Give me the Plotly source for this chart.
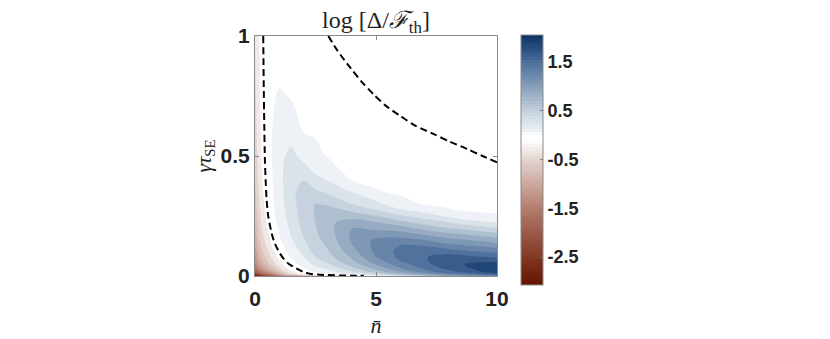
import numpy as np
import plotly.graph_objects as go

# ---------------- data ----------------
n_bar = [0, 0.15, 0.3, 0.5, 0.75, 1, 1.25, 1.5, 2, 2.5, 3, 4, 5, 6, 7, 8, 9, 10]
gamma_tau = [0, 0.005, 0.01, 0.02, 0.035, 0.05, 0.065, 0.08, 0.1, 0.125, 0.15, 0.175,
             0.2, 0.225, 0.25, 0.275, 0.3, 0.35, 0.4, 0.5, 0.6, 0.7, 0.8, 0.9, 1.0]

# log[Delta/F_th] estimated on the grid; one list per n_bar value (ordered as gamma_tau)
log_ratio_by_n = [
    [-3.07, -2.5, -2.15, -1.8, -1.5, -1.32, -1.2, -1.12, -1.02, -0.93, -0.86, -0.8, -0.75, -0.7, -0.66, -0.63, -0.6, -0.56, -0.52, -0.45, -0.4, -0.37, -0.34, -0.32, -0.3],
    [-2.7, -2.2, -1.8, -1.45, -1.17, -1.0, -0.9, -0.82, -0.72, -0.63, -0.57, -0.52, -0.48, -0.44, -0.41, -0.38, -0.36, -0.32, -0.29, -0.24, -0.2, -0.18, -0.16, -0.15, -0.14],
    [-2.4, -1.95, -1.6, -1.25, -0.97, -0.8, -0.7, -0.62, -0.53, -0.45, -0.39, -0.34, -0.3, -0.26, -0.23, -0.2, -0.18, -0.14, -0.11, -0.07, -0.05, -0.035, -0.025, -0.02, -0.015],
    [-2.1, -1.7, -1.38, -1.05, -0.78, -0.62, -0.52, -0.44, -0.36, -0.28, -0.22, -0.17, -0.13, -0.09, -0.06, -0.035, -0.015, 0.01, 0.025, 0.04, 0.045, 0.045, 0.04, 0.035, 0.03],
    [-1.8, -1.4, -1.1, -0.8, -0.55, -0.4, -0.3, -0.22, -0.14, -0.07, -0.02, 0.015, 0.03, 0.045, 0.055, 0.062, 0.068, 0.078, 0.085, 0.09, 0.088, 0.075, 0.055, 0.04, 0.03],
    [-1.5, -1.05, -0.78, -0.52, -0.32, -0.2, -0.11, -0.05, 0.005, 0.04, 0.065, 0.08, 0.095, 0.115, 0.135, 0.155, 0.175, 0.2, 0.22, 0.22, 0.18, 0.13, 0.07, 0.045, 0.03],
    [-1.3, -0.75, -0.5, -0.28, -0.13, -0.05, 0.0, 0.03, 0.06, 0.09, 0.13, 0.17, 0.21, 0.24, 0.265, 0.285, 0.3, 0.31, 0.31, 0.28, 0.19, 0.11, 0.06, 0.04, 0.025],
    [-1.15, -0.55, -0.32, -0.14, -0.03, 0.015, 0.05, 0.09, 0.14, 0.2, 0.26, 0.3, 0.33, 0.35, 0.37, 0.385, 0.4, 0.42, 0.43, 0.34, 0.18, 0.09, 0.06, 0.04, 0.02],
    [-0.85, -0.2, -0.06, 0.01, 0.08, 0.15, 0.22, 0.28, 0.34, 0.4, 0.45, 0.49, 0.52, 0.54, 0.56, 0.57, 0.575, 0.56, 0.47, 0.21, 0.08, 0.06, 0.04, 0.03, 0.015],
    [-0.6, -0.03, 0.03, 0.12, 0.24, 0.34, 0.42, 0.48, 0.54, 0.59, 0.62, 0.645, 0.66, 0.675, 0.685, 0.69, 0.68, 0.52, 0.33, 0.12, 0.065, 0.045, 0.03, 0.02, 0.01],
    [-0.4, 0.02, 0.1, 0.22, 0.36, 0.46, 0.54, 0.6, 0.65, 0.69, 0.73, 0.77, 0.8, 0.83, 0.85, 0.78, 0.63, 0.45, 0.27, 0.07, 0.055, 0.04, 0.025, 0.012, 0.0],
    [-0.15, 0.15, 0.3, 0.48, 0.65, 0.76, 0.84, 0.9, 0.98, 1.05, 1.09, 1.1, 1.06, 0.94, 0.79, 0.62, 0.474, 0.277, 0.08, 0.07, 0.05, 0.03, 0.01, -0.003, -0.01],
    [0.12, 0.4, 0.58, 0.8, 0.97, 1.08, 1.19, 1.27, 1.31, 1.33, 1.3, 1.17, 1.0, 0.87, 0.67, 0.474, 0.34, 0.09, 0.06, 0.035, 0.02, 0.005, -0.005, -0.015, -0.02],
    [0.4, 0.7, 0.9, 1.1, 1.27, 1.38, 1.47, 1.51, 1.52, 1.47, 1.33, 1.15, 0.95, 0.73, 0.51, 0.3, 0.13, 0.06, 0.05, 0.025, 0.01, -0.005, -0.015, -0.02, -0.03],
    [0.65, 0.98, 1.2, 1.4, 1.53, 1.6, 1.63, 1.64, 1.6, 1.46, 1.26, 1.04, 0.8, 0.58, 0.38, 0.19, 0.07, 0.055, 0.04, 0.02, 0.005, -0.005, -0.015, -0.02, -0.03],
    [0.9, 1.25, 1.45, 1.62, 1.74, 1.8, 1.8, 1.74, 1.58, 1.34, 1.13, 0.91, 0.67, 0.46, 0.24, 0.09, 0.06, 0.05, 0.03, 0.015, 0.0, -0.01, -0.02, -0.03, -0.035],
    [1.05, 1.42, 1.62, 1.8, 1.88, 1.88, 1.8, 1.68, 1.49, 1.26, 1.05, 0.82, 0.57, 0.33, 0.13, 0.06, 0.055, 0.045, 0.03, 0.01, -0.01, -0.02, -0.03, -0.04, -0.04],
    [1.25, 1.6, 1.83, 2.0, 2.05, 1.95, 1.8, 1.63, 1.43, 1.19, 0.95, 0.72, 0.474, 0.26, 0.09, 0.07, 0.06, 0.045, 0.03, 0.0, -0.02, -0.03, -0.04, -0.05, -0.05],
]

# dashed boundary curves
left_curve_n = [0.34, 0.35, 0.36, 0.38, 0.41, 0.44, 0.48, 0.55, 0.62, 0.69, 0.8, 0.95, 1.03,
                1.2, 1.4, 1.58, 1.8, 2.0, 2.27, 2.6, 3.0, 3.5, 4.0, 4.5]
left_curve_g = [1.0, 0.9, 0.8, 0.65, 0.48, 0.4, 0.315, 0.246, 0.21, 0.177, 0.14, 0.108, 0.094,
                0.07, 0.05, 0.039, 0.027, 0.017, 0.009, 0.006, 0.004, 0.0025, 0.0015, 0.001]
right_curve_n = [3.03, 3.4, 3.93, 4.4, 4.89, 5.4, 5.99, 6.6, 7.37, 8.0, 8.75, 9.4, 10]
right_curve_g = [1.0, 0.94, 0.869, 0.81, 0.758, 0.71, 0.668, 0.628, 0.592, 0.562, 0.53, 0.5, 0.474]

x_ticks = [0, 5, 10]
y_ticks = [0, 0.5, 1]
y_ticklabels = ["0", "0.5", "1"]
cbar_ticks = [-2.5, -1.5, -0.5, 0.5, 1.5]
z_min, z_max = -3.07, 2.05

# ---------------- styling ----------------
anchors = [(-3.07, (100, 20, 0)), (-2.5, (130, 55, 35)), (-1.5, (180, 125, 110)),
           (-0.5, (228, 212, 207)), (-0.12, (255, 255, 255)), (0.0, (255, 255, 255)),
           (0.08, (238, 242, 246)), (0.5, (195, 208, 220)), (1.0, (135, 158, 185)),
           (1.5, (75, 110, 155)), (2.05, (10, 50, 100))]


def cmap(v):
    v = min(max(v, anchors[0][0]), anchors[-1][0])
    for (a, ca), (b, cb) in zip(anchors[:-1], anchors[1:]):
        if a <= v <= b:
            t = (v - a) / (b - a)
            c = [round(ca[i] + t * (cb[i] - ca[i])) for i in range(3)]
            return "rgb(%d,%d,%d)" % tuple(c)
    return "rgb(255,255,255)"


n_lev = 25
cs = (z_max - z_min) / (n_lev + 1)
start = z_min + cs
end = z_min + n_lev * cs
nc = int(np.floor((end + cs / 1e6 - start) / cs)) + 1
# band above level L painted with the colour of L (MATLAB contourf convention)
contour_scale = [[j / nc, cmap(start + (j - 1) * cs)] for j in range(nc + 1)]

nsteps = 80
bar_scale = []
for i in range(nsteps):
    c = cmap(z_min + (i + 0.5) * (z_max - z_min) / nsteps)
    bar_scale.append([i / nsteps, c])
    bar_scale.append([(i + 1) / nsteps, c])

Z = np.array(log_ratio_by_n).T

# page has an 8px body margin: plot area wanted at page x 255..497, y 36..276
ML, MT, PW, PH = 247, 28, 242, 240

fig = go.Figure()
fig.add_trace(go.Contour(
    x=n_bar, y=gamma_tau, z=Z,
    contours=dict(start=start, end=end, size=cs, coloring="fill", showlines=False),
    colorscale=contour_scale, showscale=False, line=dict(width=0, smoothing=1.0),
    hoverinfo="skip",
))
dash = dict(color="black", width=2, dash="7px,4px")
fig.add_trace(go.Scatter(x=left_curve_n, y=left_curve_g, mode="lines",
                         line=dict(shape="spline", smoothing=0.6, **dash), hoverinfo="skip"))
fig.add_trace(go.Scatter(x=right_curve_n, y=right_curve_g, mode="lines",
                         line=dict(shape="spline", smoothing=0.8, **dash), hoverinfo="skip"))
# colour bar carrier (points lie outside the visible axes)
fig.add_trace(go.Scatter(
    x=[-50, -50], y=[-50, -50], mode="markers",
    marker=dict(color=[z_min, z_max], cmin=z_min, cmax=z_max, colorscale=bar_scale,
                showscale=True,
                colorbar=dict(thickness=22, thicknessmode="pixels", len=250, lenmode="pixels",
                              x=(521 - 255) / PW, xanchor="left", xpad=0,
                              y=(276 - 160) / PH, yanchor="middle", ypad=0,
                              outlinecolor="#8a8a8a", outlinewidth=1,
                              tickvals=cbar_ticks, ticktext=[str(t) for t in cbar_ticks],
                              ticks="inside", ticklen=3, tickcolor="#777",
                              tickfont=dict(family="Liberation Sans", size=18, color="#222",
                                            weight="bold"))),
    hoverinfo="skip"))

axis_common = dict(showline=True, linecolor="#8a8a8a", linewidth=1, mirror="ticks",
                   ticks="inside", ticklen=4, tickcolor="#8a8a8a", showgrid=False,
                   zeroline=False,
                   tickfont=dict(family="Liberation Sans", size=21, color="#222", weight="bold"))
fig.update_xaxes(range=[0, 10], tickvals=x_ticks, ticklabelstandoff=4, **axis_common,
                 title=dict(text="<i>n\u0304</i>", font=dict(family="Liberation Serif", size=22,
                                                             color="#222"), standoff=8))
fig.update_yaxes(range=[0, 1], tickvals=y_ticks, ticktext=y_ticklabels, **axis_common,
                 title=dict(text="<i>γτ</i><sub>SE</sub>", font=dict(family="Liberation Serif",
                                                                    size=21, color="#222"),
                            standoff=3))
fig.update_layout(
    width=830, height=339,
    margin=dict(l=ML, r=830 - ML - PW, t=MT, b=339 - MT - PH, autoexpand=False),
    plot_bgcolor="white", paper_bgcolor="white", showlegend=False,
    title=dict(text="log [Δ/<i>ℱ</i><sub>th</sub>]", x=0.5, xref="paper", xanchor="center",
               y=1 - 12 / 339, yref="container", yanchor="middle",
               font=dict(family="Liberation Serif", size=24, color="#222")),
)
fig.write_html("out.html")
